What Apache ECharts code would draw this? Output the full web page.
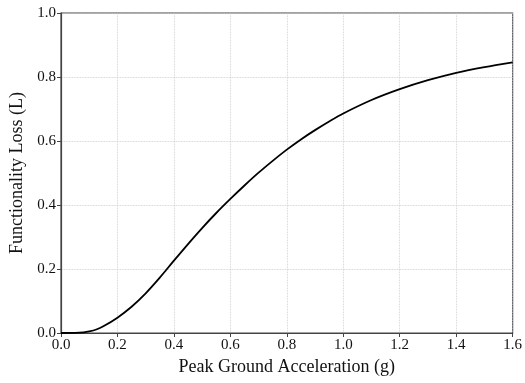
<!DOCTYPE html>
<html>
<head>
<meta charset="utf-8">
<script src="https://cdn.jsdelivr.net/npm/echarts@6/dist/echarts.min.js"></script>
<style>html,body{margin:0;padding:0;background:#fff}#c{width:525px;height:383px}</style>
</head>
<body>
<div id="c"></div>
<script>
var pga = [0, 0.05, 0.08, 0.1, 0.125, 0.15, 0.2, 0.25, 0.3, 0.35, 0.4, 0.45, 0.5, 0.55, 0.6, 0.65, 0.7, 0.75, 0.8, 0.85, 0.9, 0.95, 1.0, 1.1, 1.2, 1.3, 1.4, 1.5, 1.6];
var loss = [0, 0.0003, 0.002, 0.005, 0.011, 0.021, 0.048, 0.082, 0.124, 0.173, 0.226, 0.278, 0.328, 0.375, 0.419, 0.461, 0.501, 0.538, 0.573, 0.605, 0.634, 0.661, 0.686, 0.728, 0.762, 0.790, 0.813, 0.831, 0.846];
var xTicks = [0, 0.2, 0.4, 0.6, 0.8, 1.0, 1.2, 1.4, 1.6];
var yTicks = [0, 0.2, 0.4, 0.6, 0.8, 1.0];

var chart = echarts.init(document.getElementById('c'), null, {renderer: 'canvas'});
var font = 'Liberation Serif, Times New Roman, serif';
var data = pga.map(function (x, i) { return [x, loss[i]]; });
chart.setOption({
  animation: false,
  backgroundColor: '#fff',
  grid: {left: 61, right: 12, top: 13, bottom: 50, show: true, borderColor: '#444', borderWidth: 1.2, backgroundColor: 'transparent'},
  xAxis: {
    type: 'value', min: xTicks[0], max: xTicks[xTicks.length - 1], interval: 0.2,
    name: 'Peak Ground Acceleration (g)', nameLocation: 'middle', nameGap: 25,
    nameTextStyle: {fontFamily: font, fontSize: 18, color: '#111'},
    axisLine: {show: true, lineStyle: {color: '#444', width: 1.2}},
    axisTick: {show: true, length: 4, lineStyle: {color: '#444'}},
    axisLabel: {fontFamily: font, fontSize: 15, color: '#111', margin: 5, formatter: function (v) { return v.toFixed(1); }},
    splitLine: {show: true, lineStyle: {color: '#c8c8c8', type: 'dotted', width: 0.8}}
  },
  yAxis: {
    type: 'value', min: yTicks[0], max: yTicks[yTicks.length - 1], interval: 0.2,
    name: 'Functionality Loss (L)', nameLocation: 'middle', nameGap: 32,
    nameTextStyle: {fontFamily: font, fontSize: 18, color: '#111'},
    axisLine: {show: true, lineStyle: {color: '#444', width: 1.2}},
    axisTick: {show: true, length: 4, lineStyle: {color: '#444'}},
    axisLabel: {fontFamily: font, fontSize: 15, color: '#111', margin: 5, formatter: function (v) { return v.toFixed(1); }},
    splitLine: {show: true, lineStyle: {color: '#c8c8c8', type: 'dotted', width: 0.8}}
  },
  series: [{
    type: 'line', data: data, smooth: 0.3, showSymbol: false,
    lineStyle: {color: '#000', width: 1.8}, z: 5
  }]
});
</script>
</body>
</html>
